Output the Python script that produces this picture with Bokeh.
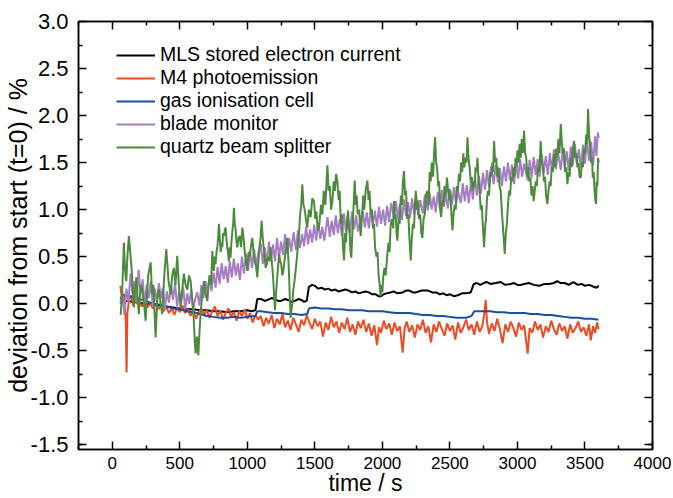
from bokeh.plotting import figure
from bokeh.models import (LinearAxis, FixedTicker, PrintfTickFormatter, Legend, LegendItem, Range1d)
from bokeh.embed import file_html
from bokeh.resources import INLINE

# ---------------- data ----------------
series_names = ["MLS stored electron current", "M4 photoemission", "gas ionisation cell",
                "blade monitor", "quartz beam splitter"]
series_colors = ["#000000", "#EE4B22", "#1B4DA0", "#A47DC4", "#4C8B3C"]

mls_t = [60, 100, 150, 200, 250, 300, 350, 400, 450, 500, 550, 600, 650, 700, 750, 800, 850, 900, 950,
         1000, 1030, 1060, 1074, 1100, 1130, 1150, 1180, 1200, 1230, 1250, 1280, 1300, 1330, 1350, 1380,
         1400, 1420, 1440, 1456, 1480, 1500, 1525, 1550, 1575, 1600, 1625, 1650, 1675, 1700, 1725, 1750,
         1775, 1800, 1825, 1850, 1875, 1900, 1925, 1950, 1970, 1990, 2010, 2030, 2060, 2084, 2110, 2150,
         2175, 2200, 2225, 2250, 2290, 2336, 2370, 2400, 2425, 2450, 2475, 2500, 2530, 2558, 2590, 2620,
         2654, 2677, 2700, 2725, 2750, 2775, 2800, 2840, 2876, 2910, 2950, 2975, 3000, 3025, 3050, 3085,
         3121, 3160, 3200, 3235, 3269, 3295, 3320, 3350, 3380, 3415, 3447, 3475, 3500, 3530, 3565, 3585,
         3602]
mls_v = [0.0, 0.03, 0.02, 0.01, 0.0, -0.01, -0.02, -0.03, -0.04, -0.05, -0.06, -0.06, -0.07, -0.07, -0.08,
         -0.08, -0.09, -0.08, -0.08, -0.07, -0.08, -0.07, 0.05, 0.05, 0.03, 0.04, 0.06, 0.05, 0.03, 0.03,
         0.05, 0.04, 0.02, 0.03, 0.05, 0.04, 0.02, 0.03, 0.18, 0.2, 0.19, 0.16, 0.17, 0.15, 0.16, 0.14, 0.15,
         0.13, 0.14, 0.15, 0.14, 0.12, 0.13, 0.11, 0.12, 0.13, 0.12, 0.1, 0.1, 0.08, 0.08, 0.1, 0.11, 0.12,
         0.13, 0.11, 0.12, 0.14, 0.14, 0.12, 0.12, 0.14, 0.14, 0.12, 0.12, 0.1, 0.11, 0.09, 0.1, 0.08, 0.09,
         0.11, 0.11, 0.12, 0.21, 0.22, 0.2, 0.22, 0.23, 0.21, 0.22, 0.23, 0.2, 0.21, 0.22, 0.2, 0.2, 0.21,
         0.22, 0.2, 0.19, 0.21, 0.21, 0.22, 0.24, 0.22, 0.22, 0.2, 0.23, 0.2, 0.21, 0.19, 0.2, 0.18, 0.17,
         0.19, 0.2]

m4_t = [60, 75, 90, 100, 106, 112, 125, 140, 155, 170, 185, 200, 220, 240, 260, 280, 300, 320, 340, 360,
        380, 400, 420, 440, 460, 480, 500, 520, 540, 560, 580, 600, 620, 640, 660, 680, 700, 720, 740, 760,
        780, 800, 820, 840, 860, 880, 900, 920, 940, 960, 980, 1000, 1020, 1040, 1060, 1080, 1100, 1120,
        1140, 1160, 1180, 1200, 1220, 1240, 1260, 1280, 1300, 1320, 1340, 1360, 1380, 1400, 1420, 1440,
        1460, 1480, 1500, 1520, 1540, 1560, 1580, 1600, 1620, 1640, 1660, 1680, 1700, 1720, 1740, 1760,
        1780, 1800, 1820, 1840, 1860, 1880, 1900, 1920, 1940, 1960, 1975, 1990, 2010, 2030, 2050, 2070,
        2090, 2110, 2130, 2150, 2165, 2180, 2200, 2220, 2240, 2260, 2280, 2300, 2320, 2340, 2360, 2380,
        2400, 2420, 2440, 2460, 2480, 2500, 2520, 2540, 2560, 2580, 2600, 2620, 2640, 2660, 2680, 2700,
        2720, 2740, 2755, 2765, 2775, 2790, 2810, 2830, 2850, 2870, 2890, 2910, 2930, 2950, 2970, 2990,
        3010, 3030, 3050, 3076, 3090, 3110, 3130, 3150, 3170, 3190, 3210, 3230, 3250, 3270, 3290, 3310,
        3330, 3350, 3370, 3390, 3410, 3430, 3450, 3470, 3490, 3510, 3530, 3543, 3560, 3575, 3590, 3600]
m4_v = [0.19, 0.0, 0.08, -0.2, -0.73, -0.1, 0.05, 0.09, -0.02, 0.04, 0.0, 0.03, -0.03, 0.02, -0.04, 0.01,
        -0.05, 0.0, -0.06, -0.02, -0.08, -0.03, -0.1, -0.05, -0.12, -0.04, -0.09, -0.02, -0.1, -0.06, -0.13,
        -0.07, -0.16, -0.09, -0.05, -0.12, -0.07, -0.15, -0.08, -0.03, -0.13, -0.07, -0.17, -0.1, -0.05,
        -0.14, -0.09, -0.18, -0.08, -0.13, -0.06, -0.16, -0.1, -0.2, -0.12, -0.17, -0.13, -0.24, -0.15,
        -0.21, -0.12, -0.26, -0.16, -0.22, -0.11, -0.25, -0.18, -0.28, -0.15, -0.22, -0.3, -0.17, -0.23,
        -0.12, -0.2, -0.27, -0.16, -0.24, -0.19, -0.35, -0.2, -0.28, -0.14, -0.25, -0.19, -0.31, -0.2,
        -0.27, -0.15, -0.3, -0.22, -0.33, -0.19, -0.26, -0.17, -0.3, -0.21, -0.34, -0.23, -0.44, -0.25,
        -0.31, -0.18, -0.27, -0.21, -0.33, -0.2, -0.29, -0.24, -0.52, -0.26, -0.19, -0.3, -0.23, -0.36,
        -0.22, -0.28, -0.17, -0.31, -0.24, -0.41, -0.22, -0.3, -0.19, -0.27, -0.34, -0.21, -0.29, -0.23,
        -0.38, -0.2, -0.31, -0.25, -0.17, -0.28, -0.22, -0.33, -0.19, -0.3, -0.24, -0.1, 0.04, -0.2, -0.32,
        -0.21, -0.29, -0.16, -0.27, -0.42, -0.22, -0.3, -0.19, -0.26, -0.35, -0.2, -0.28, -0.23, -0.53,
        -0.26, -0.31, -0.19, -0.28, -0.22, -0.36, -0.24, -0.3, -0.18, -0.27, -0.33, -0.21, -0.29, -0.24,
        -0.37, -0.22, -0.31, -0.26, -0.19, -0.3, -0.25, -0.34, -0.22, -0.39, -0.24, -0.31, -0.2, -0.27]

gas_t = [60, 80, 100, 130, 160, 200, 250, 300, 358, 400, 450, 500, 550, 604, 650, 700, 750, 802, 850, 900,
         950, 1000, 1060, 1074, 1100, 1150, 1200, 1250, 1300, 1350, 1400, 1444, 1456, 1500, 1550, 1600,
         1650, 1700, 1750, 1800, 1850, 1900, 1950, 2000, 2050, 2100, 2150, 2200, 2250, 2300, 2350, 2400,
         2450, 2500, 2550, 2620, 2660, 2680, 2750, 2800, 2850, 2900, 2950, 3000, 3050, 3100, 3150, 3200,
         3250, 3300, 3350, 3400, 3450, 3500, 3550, 3600]
gas_v = [0.05, 0.1, 0.08, 0.07, 0.08, 0.05, 0.03, 0.0, -0.01, -0.03, -0.05, -0.06, -0.08, -0.09, -0.11,
         -0.13, -0.14, -0.15, -0.15, -0.14, -0.15, -0.14, -0.13, -0.08, -0.08, -0.09, -0.1, -0.1, -0.11,
         -0.11, -0.12, -0.11, -0.05, -0.04, -0.05, -0.05, -0.06, -0.06, -0.07, -0.07, -0.07, -0.08, -0.08,
         -0.08, -0.09, -0.1, -0.1, -0.1, -0.11, -0.12, -0.12, -0.13, -0.13, -0.14, -0.15, -0.15, -0.13,
         -0.08, -0.08, -0.08, -0.09, -0.09, -0.1, -0.1, -0.1, -0.11, -0.11, -0.12, -0.12, -0.13, -0.14,
         -0.15, -0.15, -0.16, -0.16, -0.17]

blade_t = [60, 75, 90, 105, 120, 135, 150, 165, 180, 195, 210, 225, 240, 255, 270, 285, 300, 315, 330, 345,
           360, 375, 390, 405, 420, 435, 450, 465, 480, 495, 510, 525, 540, 555, 570, 585, 600, 615, 630,
           645, 660, 675, 690, 705, 720, 735, 750, 765, 780, 795, 810, 825, 840, 855, 870, 885, 900, 915,
           930, 945, 960, 975, 990, 1005, 1020, 1035, 1050, 1065, 1080, 1099, 1115, 1130, 1145, 1160, 1175,
           1190, 1205, 1220, 1235, 1250, 1265, 1280, 1295, 1310, 1325, 1343, 1360, 1375, 1390, 1405, 1420,
           1435, 1450, 1465, 1480, 1495, 1510, 1525, 1540, 1555, 1570, 1594, 1610, 1625, 1640, 1655, 1670,
           1685, 1700, 1715, 1730, 1745, 1760, 1775, 1790, 1805, 1820, 1839, 1855, 1870, 1885, 1900, 1915,
           1930, 1945, 1960, 1975, 1990, 2005, 2020, 2035, 2050, 2065, 2086, 2100, 2115, 2130, 2145, 2160,
           2175, 2190, 2205, 2220, 2235, 2250, 2265, 2280, 2300, 2315, 2336, 2350, 2365, 2380, 2395, 2410,
           2425, 2440, 2455, 2470, 2485, 2500, 2515, 2530, 2545, 2560, 2580, 2595, 2610, 2625, 2640, 2655,
           2670, 2685, 2700, 2715, 2730, 2745, 2760, 2775, 2790, 2805, 2824, 2840, 2855, 2870, 2885, 2900,
           2915, 2930, 2945, 2960, 2975, 2990, 3005, 3020, 3035, 3050, 3076, 3090, 3105, 3120, 3135, 3150,
           3165, 3180, 3195, 3210, 3225, 3240, 3255, 3270, 3285, 3300, 3321, 3335, 3350, 3365, 3380, 3395,
           3410, 3425, 3440, 3455, 3470, 3485, 3500, 3515, 3530, 3545, 3560, 3575, 3585, 3595, 3602]
blade_v = [0.0, 0.12, -0.12, 0.16, 0.02, 0.32, 0.1, 0.24, 0.02, 0.36, 0.1, 0.26, -0.02, 0.2, 0.06, 0.24,
           -0.03, 0.16, 0.02, 0.22, 0.06, 0.17, -0.05, 0.13, 0.01, 0.2, 0.04, 0.22, -0.03, 0.13, 0.02, 0.18,
           -0.06, 0.11, 0.0, 0.15, -0.08, 0.06, 0.12, -0.02, 0.2, 0.06, 0.24, 0.1, 0.3, 0.13, 0.33, 0.17,
           0.39, 0.21, 0.43, 0.26, 0.4, 0.22, 0.45, 0.28, 0.48, 0.3, 0.43, 0.25, 0.5, 0.32, 0.53, 0.35, 0.56,
           0.38, 0.58, 0.4, 0.53, 0.64, 0.42, 0.6, 0.41, 0.66, 0.47, 0.63, 0.45, 0.7, 0.49, 0.66, 0.52, 0.74,
           0.53, 0.7, 0.55, 0.76, 0.57, 0.78, 0.59, 0.74, 0.61, 0.82, 0.63, 0.79, 0.65, 0.84, 0.67, 0.86, 0.69,
           0.82, 0.67, 0.92, 0.71, 0.88, 0.73, 0.94, 0.75, 0.9, 0.72, 0.96, 0.77, 0.92, 0.75, 0.98, 0.79, 0.94,
           0.77, 0.9, 0.99, 0.81, 0.97, 0.8, 1.01, 0.84, 0.99, 0.82, 1.03, 0.85, 1.0, 0.83, 1.04, 0.87, 1.07,
           0.91, 1.09, 0.9, 1.06, 0.89, 1.11, 0.93, 1.08, 0.91, 1.12, 0.95, 1.14, 0.94, 1.1, 0.96, 1.16, 0.99,
           1.18, 1.0, 1.14, 0.97, 1.19, 1.02, 1.21, 1.03, 1.17, 1.01, 1.22, 1.05, 1.24, 1.06, 1.2, 1.07, 1.28,
           1.09, 1.26, 1.07, 1.3, 1.11, 1.34, 1.15, 1.36, 1.17, 1.39, 1.21, 1.42, 1.24, 1.46, 1.27, 1.48,
           1.29, 1.44, 1.25, 1.46, 1.3, 1.5, 1.31, 1.48, 1.27, 1.51, 1.33, 1.54, 1.35, 1.49, 1.31, 1.53, 1.34,
           1.56, 1.37, 1.54, 1.35, 1.59, 1.39, 1.57, 1.37, 1.6, 1.41, 1.64, 1.43, 1.61, 1.42, 1.66, 1.45, 1.62,
           1.41, 1.67, 1.47, 1.7, 1.49, 1.64, 1.44, 1.69, 1.49, 1.74, 1.52, 1.72, 1.47, 1.78, 1.57, 1.82, 1.76]

quartz_t = [62, 73, 86, 95, 104, 112, 123, 133, 143, 152, 160, 168, 178, 188, 197, 210, 222, 235, 247, 258,
            266, 284, 295, 305, 313, 321, 333, 345, 358, 370, 385, 400, 416, 432, 444, 456, 468, 481, 493,
            506, 518, 530, 543, 556, 568, 580, 592, 604, 611, 617, 627, 637, 646, 654, 666, 679, 691, 704,
            713, 722, 731, 741, 747, 753, 759, 765, 772, 778, 784, 790, 796, 803, 809, 815, 821, 827, 833,
            839, 845, 851, 857, 863, 870, 876, 882, 888, 895, 901, 907, 913, 920, 926, 935, 944, 953, 963,
            972, 981, 990, 1000, 1009, 1018, 1027, 1037, 1046, 1055, 1064, 1074, 1082, 1090, 1098, 1106,
            1114, 1121, 1128, 1136, 1145, 1155, 1164, 1173, 1181, 1190, 1198, 1205, 1212, 1220, 1228, 1235,
            1243, 1251, 1259, 1267, 1275, 1282, 1289, 1296, 1303, 1309, 1315, 1321, 1328, 1334, 1340, 1346,
            1354, 1361, 1368, 1375, 1383, 1391, 1399, 1407, 1416, 1425, 1434, 1444, 1456, 1469, 1481, 1494,
            1503, 1512, 1521, 1531, 1546, 1556, 1566, 1578, 1593, 1602, 1611, 1620, 1630, 1640, 1648, 1657,
            1667, 1676, 1684, 1692, 1700, 1708, 1716, 1724, 1731, 1739, 1746, 1752, 1758, 1764, 1770, 1776,
            1782, 1789, 1795, 1803, 1810, 1817, 1828, 1839, 1850, 1858, 1866, 1876, 1889, 1898, 1905, 1913,
            1922, 1930, 1938, 1946, 1956, 1964, 1972, 1980, 1987, 1994, 2000, 2007, 2015, 2024, 2035, 2045,
            2053, 2062, 2072, 2080, 2086, 2092, 2098, 2105, 2111, 2120, 2128, 2137, 2145, 2152, 2160, 2168,
            2175, 2184, 2192, 2200, 2210, 2218, 2226, 2234, 2241, 2247, 2255, 2262, 2271, 2280, 2288, 2296,
            2305, 2314, 2322, 2333, 2342, 2350, 2358, 2366, 2375, 2383, 2390, 2398, 2405, 2413, 2420, 2428,
            2435, 2444, 2452, 2460, 2469, 2478, 2487, 2495, 2503, 2511, 2519, 2527, 2535, 2543, 2551, 2559,
            2567, 2575, 2583, 2591, 2599, 2607, 2615, 2623, 2630, 2638, 2646, 2654, 2662, 2667, 2675, 2683,
            2690, 2698, 2704, 2712, 2720, 2728, 2736, 2745, 2753, 2760, 2767, 2774, 2781, 2790, 2798, 2806,
            2814, 2820, 2827, 2835, 2843, 2851, 2859, 2867, 2876, 2884, 2891, 2898, 2906, 2914, 2922, 2930,
            2938, 2946, 2954, 2962, 2970, 2978, 2986, 2993, 3000, 3008, 3016, 3024, 3032, 3040, 3049, 3057,
            3065, 3073, 3080, 3088, 3096, 3104, 3112, 3120, 3128, 3136, 3144, 3152, 3160, 3167, 3172, 3180,
            3188, 3196, 3204, 3212, 3222, 3230, 3238, 3246, 3254, 3262, 3271, 3279, 3287, 3295, 3303, 3311,
            3321, 3329, 3337, 3345, 3353, 3361, 3370, 3378, 3386, 3394, 3402, 3410, 3419, 3427, 3435, 3444,
            3452, 3460, 3469, 3477, 3485, 3493, 3501, 3509, 3516, 3523, 3530, 3537, 3545, 3552, 3558, 3565,
            3571, 3577, 3582, 3587, 3592, 3597, 3602]
quartz_v = [-0.12, 0.1, 0.65, 0.35, 0.24, 0.5, 0.72, 0.55, 0.38, 0.15, -0.04, 0.12, 0.28, 0.05, -0.11, 0.2,
            0.15, 0.0, -0.18, 0.1, 0.3, 0.44, 0.1, 0.2, -0.1, -0.36, 0.05, 0.15, 0.0, -0.11, 0.3, 0.58, 0.25,
            0.1, 0.3, 0.38, 0.2, 0.51, 0.2, -0.04, 0.15, 0.32, 0.2, 0.15, 0.3, 0.24, 0.05, -0.18, -0.4, -0.53,
            -0.35, -0.55, -0.3, -0.11, 0.1, 0.24, 0.1, 0.03,
            0.2, 0.3, 0.2, 0.56, 0.4, 0.35, 0.5, 0.42, 0.55, 0.6, 0.7, 0.85, 0.7, 0.55, 0.65, 0.6, 0.75, 0.72,
            0.78, 0.81, 0.7, 0.6, 0.55, 0.45, 0.6, 0.49, 0.65, 0.75, 0.85, 1.02, 0.85, 0.8, 0.65, 0.6, 0.7,
            0.72, 0.6, 0.81, 0.7, 0.55, 0.45, 0.35, 0.55, 0.5, 0.62, 0.7, 0.55, 0.45, 0.4, 0.28, 0.45, 0.6,
            0.7, 0.88, 0.7, 0.6, 0.5, 0.38, 0.45, 0.5, 0.45, 0.6, 0.45, 0.3, 0.1, -0.07, 0.1, 0.25, 0.4, 0.53,
            0.45, 0.42, 0.3, 0.35, 0.45, 0.55, 0.6, 0.7, 0.5, 0.3, 0.05, -0.15, -0.05, 0.0, 0.15, 0.2, 0.3,
            0.4, 0.5, 0.63, 0.75, 0.95, 1.05, 1.27, 1.05, 1.0, 0.9, 0.81, 1.0, 0.92, 1.12, 1.09, 0.9, 0.98,
            0.78, 0.81, 1.05, 0.95, 1.2, 1.05, 1.47, 1.2, 1.25, 1.0, 1.09, 1.3, 1.2, 1.38, 1.3, 1.1, 1.2, 0.85,
            0.95, 0.6, 0.46, 0.75, 0.65, 0.9, 0.99, 0.8, 0.75, 0.55, 0.49, 0.7, 0.9, 1.1, 1.31, 1.05, 1.15,
            0.95, 1.0, 0.72, 0.95, 1.15, 1.0, 1.2, 1.31, 1.1, 1.2, 0.95, 1.0, 0.8, 0.85, 0.6, 0.5, 0.55, 0.3,
            0.2, 0.08, 0.2, 0.12, 0.3, 0.38, 0.3, 0.49, 0.65, 0.55, 0.85, 0.9, 0.8, 1.09, 0.9, 0.95, 0.75,
            0.67, 0.9, 0.85, 1.15, 1.05, 1.3, 1.41, 1.15, 1.2, 0.9, 0.95, 0.7, 0.46, 0.7, 0.85, 0.8, 1.05, 1.2,
            1.0, 1.1, 0.9, 0.95, 0.75, 0.7, 0.9, 0.95, 1.15, 1.2, 1.05, 1.4, 1.3, 1.5, 1.35, 1.6, 1.77, 1.5,
            1.45, 1.25, 1.3, 1.0, 0.92, 1.1, 1.05, 1.25, 1.15, 1.34, 1.2, 1.1, 1.2, 0.95, 0.78, 0.95, 1.05,
            1.0, 1.25, 1.2, 1.38, 1.3, 1.5, 1.4, 1.6, 1.45, 1.55, 1.5, 1.77, 1.55, 1.45, 1.3, 1.35, 1.2, 1.3,
            1.25, 1.45, 1.4, 1.55, 1.3, 1.2, 1.0, 1.05, 0.8, 0.6, 0.8, 0.9, 1.1, 1.2, 1.15, 1.4, 1.35, 1.5,
            1.4, 1.73, 1.5, 1.55, 1.35, 1.45, 1.25, 1.2, 1.0, 0.85, 0.7, 0.53, 0.75, 0.85, 1.05, 1.2, 1.15,
            1.35, 1.3, 1.45, 1.35, 1.55, 1.45, 1.63, 1.5, 1.7, 1.55, 1.75, 1.6, 1.84, 1.6, 1.55, 1.35, 1.45,
            1.3, 1.34, 1.15, 1.25, 1.09, 1.2, 1.3, 1.25, 1.45, 1.4, 1.55, 1.73, 1.5, 1.45, 1.3, 1.35, 1.15,
            1.06, 1.2, 1.3, 1.25, 1.45, 1.4, 1.59, 1.45, 1.65, 1.55, 1.75, 1.6, 1.91, 1.7, 1.6, 1.65, 1.4,
            1.45, 1.27, 1.4, 1.35, 1.55, 1.45, 1.65, 1.73, 1.55, 1.6, 1.45, 1.5, 1.35, 1.34, 1.5, 1.45, 1.65,
            1.6, 1.8, 1.7, 2.07, 1.8, 1.7, 1.5, 1.55, 1.34, 1.4, 1.2, 1.1, 1.06, 1.3, 1.25, 1.55, 1.5]

x_ticks = [0, 500, 1000, 1500, 2000, 2500, 3000, 3500, 4000]
y_ticks = [-1.5, -1.0, -0.5, 0.0, 0.5, 1.0, 1.5, 2.0, 2.5, 3.0]
x_title = "time / s"
y_title = "deviation from start (t=0) / %"

# ---------------- figure ----------------
FONT = "Liberation Sans"
p = figure(width=673, height=498, output_backend="svg", toolbar_location=None,
           x_range=Range1d(-250, 4000), y_range=Range1d(-1.55, 3.0),
           x_axis_type=None, y_axis_type=None,
           min_border_left=78, min_border_right=21, min_border_top=21, min_border_bottom=49)
p.background_fill_color = "white"
p.border_fill_color = "white"
p.grid.visible = False
p.outline_line_color = "black"
p.outline_line_width = 1.5

xt = FixedTicker(ticks=x_ticks, minor_ticks=[v + 250 for v in [-500] + x_ticks])
yt = FixedTicker(ticks=y_ticks, minor_ticks=[v + 0.25 for v in [-1.75] + y_ticks])

def style(ax, size):
    ax.axis_line_color = "black"
    ax.axis_line_width = 1.5
    ax.major_tick_in = 8
    ax.major_tick_out = 0
    ax.minor_tick_in = 4
    ax.minor_tick_out = 0
    ax.major_tick_line_width = 1.5
    ax.minor_tick_line_width = 1.5
    ax.major_tick_line_color = "black"
    ax.minor_tick_line_color = "black"
    ax.major_label_text_font = FONT
    ax.major_label_text_color = "black"
    ax.major_label_text_font_size = size
    if size == "0px":
        ax.major_label_text_alpha = 0

bx = LinearAxis(ticker=xt, formatter=PrintfTickFormatter(format="%d"), axis_label=x_title)
style(bx, "17px")
bx.major_label_standoff = 7
bx.axis_label_standoff = -2
bx.axis_label_text_font_size = "23px"
ly = LinearAxis(ticker=yt, formatter=PrintfTickFormatter(format="%.1f"), axis_label=y_title)
style(ly, "22px")
ly.major_label_standoff = 10
ly.axis_label_standoff = -4
ly.axis_label_text_font_size = "25px"
for ax in (bx, ly):
    ax.axis_label_text_font = FONT
    ax.axis_label_text_font_style = "normal"
    ax.axis_label_text_color = "black"
tx = LinearAxis(ticker=xt)
style(tx, "0px")
ry = LinearAxis(ticker=yt)
style(ry, "0px")
p.add_layout(bx, "below")
p.add_layout(ly, "left")
p.add_layout(tx, "above")
p.add_layout(ry, "right")

data = [(mls_t, mls_v), (m4_t, m4_v), (gas_t, gas_v), (blade_t, blade_v), (quartz_t, quartz_v)]
items = []
for (t, v), name, col in zip(data, series_names, series_colors):
    r = p.line(t, v, line_color=col, line_width=2)
    items.append(LegendItem(label=name, renderers=[r]))

leg = Legend(items=items, location=(38, 291), orientation="vertical",
             glyph_width=39, glyph_height=20, label_height=20, label_standoff=5, spacing=-2,
             padding=0, margin=0, border_line_color=None, background_fill_alpha=0,
             label_text_font=FONT, label_text_font_size="19.5px", label_text_color="black")
p.add_layout(leg, "center")

open("out.html", "w").write(file_html(p, INLINE))
